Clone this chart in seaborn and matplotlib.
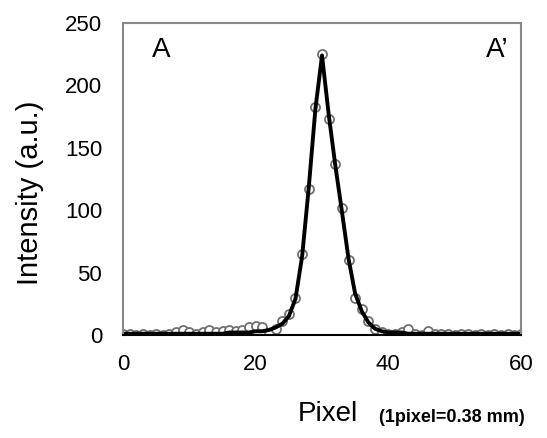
import matplotlib
matplotlib.use("Agg")
import matplotlib.pyplot as plt
import seaborn as sns
import pandas as pd

pixel = list(range(0, 61))
intensity = [1, 1, 0, 1, 0, 1, 0, 1, 2, 4, 2, 1, 2, 4, 2, 3, 4, 3, 4, 6,
             7, 6, 1, 5, 11, 17, 30, 65, 117, 183, 225, 173, 137, 102, 60, 30,
             21, 11, 5, 2, 1, 1, 2, 5, 1, 0, 3, 1, 1, 1, 0, 1, 1, 0, 1, 0,
             1, 0, 1, 0, 1]
fit = [1, 1, 1, 1, 1, 1, 1, 1, 1, 1, 1, 1, 1, 1, 1, 1, 2, 2, 2, 2,
       3, 3, 4, 6, 9, 15, 29, 63, 118, 181, 224, 177, 136, 99, 61, 33,
       19, 10, 5, 3, 2, 2, 2, 1, 1, 1, 1, 1, 1, 1, 1, 1, 1, 1, 1, 1,
       1, 1, 1, 1, 1]
xticks = [0, 20, 40, 60]
yticks = [0, 50, 100, 150, 200, 250]

df = pd.DataFrame({"pixel": pixel, "intensity": intensity, "fit": fit})

sns.set_theme(style="white")
plt.rcParams['font.family'] = ['Liberation Sans', 'DejaVu Sans']
plt.rcParams['text.color'] = 'black'
plt.rcParams['xtick.color'] = 'black'
plt.rcParams['ytick.color'] = 'black'

fig = plt.figure(figsize=(5.47, 4.38), dpi=100)
ax = fig.add_axes([0.2249, 0.2352, 0.9525 - 0.2249, 0.9475 - 0.2352])

sns.lineplot(data=df, x="pixel", y="intensity", ax=ax, color="#888888",
             linewidth=1.2, marker="o", markersize=6.5, markerfacecolor="white",
             markeredgecolor="#707070", markeredgewidth=1.3)
sns.lineplot(data=df, x="pixel", y="fit", ax=ax, color="black", linewidth=2.8)

ax.set_xlim(0, 60)
ax.set_ylim(0, 250)
ax.set_xticks(xticks)
ax.set_yticks(yticks)
ax.set_xticklabels([str(v) for v in xticks], fontsize=16, color="black")
ax.set_yticklabels([str(v) for v in yticks], fontsize=16, color="black")
ax.tick_params(axis="x", length=0, pad=14)
ax.tick_params(axis="y", length=0, pad=15)
ax.set_xlabel("")
ax.set_ylabel("")

for side in ["left", "top", "right"]:
    ax.spines[side].set_color("#888888")
    ax.spines[side].set_linewidth(1.5)
ax.spines["bottom"].set_color("black")
ax.spines["bottom"].set_linewidth(1.5)

fig.text(30 / 547, 1 - 193 / 438, "Intensity (a.u.)", rotation=90, fontsize=21,
         ha="center", va="center", color="black")
fig.text(328 / 547, 1 - 414 / 438, "Pixel", fontsize=20, ha="center", va="center",
         color="black")
fig.text(452 / 547, 1 - 418 / 438, "(1pixel=0.38 mm)", fontsize=13,
         fontweight="bold", ha="center", va="center", color="black")
fig.text(161 / 547, 1 - 50 / 438, "A", fontsize=20, ha="center", va="center",
         color="black")
fig.text(497 / 547, 1 - 50 / 438, "A\u2019", fontsize=20, ha="center", va="center",
         color="black")

fig.savefig("out.png", dpi=100)
